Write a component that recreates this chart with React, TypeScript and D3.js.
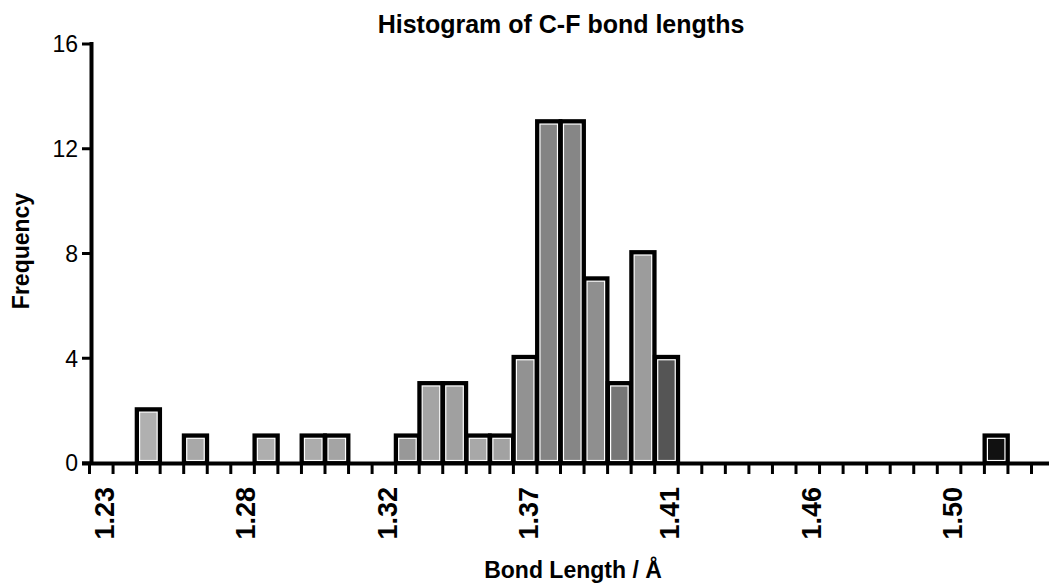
import React from 'react';
import * as d3 from 'd3';

// lower edges of the histogram bins (bin width 0.0075 Å)
const binLower = [1.2375, 1.2525, 1.275, 1.29, 1.2975, 1.32, 1.3275, 1.335, 1.3425, 1.35, 1.3575, 1.365, 1.3725, 1.38, 1.3875, 1.395, 1.4025, 1.5075];
const counts = [2, 1, 1, 1, 1, 1, 3, 3, 1, 1, 4, 13, 13, 7, 3, 8, 4, 1];
const binWidth = 0.0075;
const xDomain = [1.2225, 1.5225];
const xTickValues = [1.23, 1.275, 1.32, 1.365, 1.41, 1.455, 1.5];
const xTickLabels = ['1.23', '1.28', '1.32', '1.37', '1.41', '1.46', '1.50'];
const yTicks = [0, 4, 8, 12, 16];
const title = 'Histogram of C-F bond lengths';
const xTitle = 'Bond Length / Å';
const yTitle = 'Frequency';

// scan shading of each bar's interior
const barShades = ['#b0b0b0', '#a8a8a8', '#aeaeae', '#acacac', '#a4a4a4', '#989898', '#a4a4a4', '#a0a0a0', '#a8a8a8', '#a2a2a2', '#929292', '#848484', '#868686', '#8f8f8f', '#767676', '#9c9c9c', '#555555', '#111111'];

const FONT = '"Liberation Sans", Arial, Helvetica, sans-serif';

export default function App() {
  const W = 1049;
  const H = 585;
  const x = d3.scaleLinear().domain(xDomain).range([89.5, 1031.5]);
  const y = d3.scaleLinear().domain([0, 16]).range([463, 44]);
  const nEdges = Math.round((xDomain[1] - xDomain[0]) / binWidth);
  const edges = d3.range(0, nEdges + 1).map((i) => xDomain[0] + i * binWidth);

  return (
    <svg width={W} height={H} style={{ position: 'absolute', left: 0, top: 0, background: '#fff' }} fontFamily={FONT}>
      <rect x={0} y={0} width={W} height={H} fill="#fff" />
      {/* bars */}
      {binLower.map((b, i) => {
        const x0 = x(b);
        const x1 = x(b + binWidth);
        const yt = y(counts[i]);
        const y0 = y(0);
        const inset = 3;
        return (
          <g key={i}>
            <rect x={x0} y={yt - 1.5} width={x1 - x0} height={y0 - yt + 1.5} fill="#000" stroke="#000" strokeWidth={3.8} />
            <rect x={x0 + inset} y={yt + inset - 1.5} width={x1 - x0 - 2 * inset} height={y0 - yt - 2 * inset + 2} fill={barShades[i]} stroke="#fff" strokeWidth={1.2} />
          </g>
        );
      })}
      {/* x axis */}
      <line x1={82} x2={W} y1={463.5} y2={463.5} stroke="#000" strokeWidth={4} />
      {edges.map((e, i) => (
        <line key={i} x1={x(e)} x2={x(e)} y1={463} y2={474} stroke="#000" strokeWidth={3} />
      ))}
      {xTickValues.map((v, i) => (
        <text key={i} transform={`translate(${x(v) + 1},487) rotate(-90)`} textAnchor="end" fontSize={27} fontWeight="bold" fill="#000">
          {xTickLabels[i]}
        </text>
      ))}
      {/* y axis */}
      <line x1={91.5} x2={91.5} y1={42} y2={465} stroke="#000" strokeWidth={4} />
      {yTicks.map((t) => (
        <g key={t}>
          <line x1={82} x2={92} y1={y(t)} y2={y(t)} stroke="#000" strokeWidth={3} />
          <text x={78} y={y(t)} dy="0.36em" textAnchor="end" fontSize={23} fill="#000">
            {t}
          </text>
        </g>
      ))}
      {/* titles */}
      <text x={561} y={33} textAnchor="middle" fontSize={25} fontWeight="bold" fill="#000">
        {title}
      </text>
      <text x={573} y={578} textAnchor="middle" fontSize={23} fontWeight="bold" fill="#000">
        {xTitle}
      </text>
      <text transform="translate(29,251) rotate(-90)" textAnchor="middle" fontSize={23} fontWeight="bold" fill="#000">
        {yTitle}
      </text>
    </svg>
  );
}
